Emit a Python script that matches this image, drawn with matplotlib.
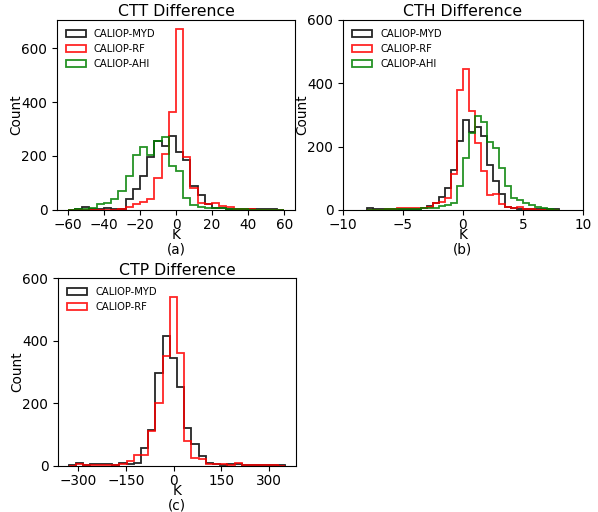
import matplotlib
matplotlib.use("Agg")
import matplotlib.pyplot as plt
import numpy as np

# bin edges
ctt_edges = np.arange(-60, 61, 4)
cth_edges = np.arange(-8, 8.01, 0.5)
ctp_edges = np.linspace(-330, 352, 31)

# counts per bin
ctt_myd = [0, 2, 10, 5, 3, 6, 3, 4, 40, 78, 124, 198, 254, 238, 276,
           214, 186, 89, 57, 21, 8, 6, 4, 3, 4, 2, 4, 5, 4, 0]
ctt_rf = [0, 0, 0, 0, 0, 0, 0, 5, 12, 22, 28, 40, 117, 207, 364,
          671, 197, 80, 27, 22, 24, 14, 9, 5, 3, 2, 1, 1, 0, 0]
ctt_ahi = [0, 2, 3, 8, 22, 27, 42, 70, 124, 204, 232, 205, 255, 271, 162,
           143, 46, 18, 11, 8, 6, 6, 5, 4, 2, 1, 0, 0, 0, 0]

cth_myd = [5, 3, 2, 2, 2, 3, 3, 3, 4, 7, 13, 23, 42, 68, 127, 218,
           284, 247, 261, 232, 141, 92, 50, 9, 5, 4, 3, 2, 2, 2, 3, 3]
cth_rf = [0, 0, 1, 2, 4, 5, 6, 7, 5, 7, 10, 21, 24, 37, 114, 378,
          444, 314, 210, 124, 47, 50, 19, 8, 5, 8, 4, 2, 1, 0, 0, 0]
cth_ahi = [0, 1, 1, 2, 3, 3, 4, 4, 4, 5, 5, 7, 11, 16, 21, 76,
           163, 242, 298, 279, 216, 195, 133, 74, 37, 32, 21, 15, 8, 5, 2, 1]

ctp_myd = [3, 8, 2, 7, 7, 5, 2, 8, 5, 10, 57, 116, 298, 414, 344,
           253, 122, 69, 32, 9, 5, 4, 5, 5, 4, 3, 3, 4, 4, 2]
ctp_rf = [0, 6, 3, 2, 3, 3, 2, 5, 15, 35, 36, 110, 202, 350, 540,
          361, 81, 24, 23, 7, 5, 5, 3, 9, 3, 2, 3, 4, 3, 0]

labels = ['CALIOP-MYD', 'CALIOP-RF', 'CALIOP-AHI']
colors = ['k', 'r', 'g']

plt.rcParams['font.size'] = 9.8
plt.rcParams['xtick.labelsize'] = 9.8
plt.rcParams['ytick.labelsize'] = 9.8
plt.rcParams['xtick.major.pad'] = 2

fig = plt.figure(figsize=(5.98, 5.12), dpi=100)


def step_hist(ax, edges, series, title, tag):
	"""
	Draws the step histograms of one panel
	"""
	for counts, col, lab in zip(series, colors, labels):
		ax.hist(edges[:-1], bins=edges, weights=counts, histtype='step',
				color=col, lw=1.3, alpha=0.85, label=lab)
	ax.set_title(title, fontsize=11.3, pad=2.5)
	ax.set_ylabel('Count', labelpad=-1.5)
	ax.set_xlabel('K\n(' + tag + ')', labelpad=-2.5, linespacing=1.0)
	ax.legend(loc='upper left', frameon=False, fontsize=7.2)


ax1 = fig.add_axes([0.0953, 0.590, 0.398, 0.371])
step_hist(ax1, ctt_edges, [ctt_myd, ctt_rf, ctt_ahi], 'CTT Difference', 'a')
ax1.set_xticks([-60, -40, -20, 0, 20, 40, 60])

ax2 = fig.add_axes([0.5736, 0.590, 0.401, 0.371])
step_hist(ax2, cth_edges, [cth_myd, cth_rf, cth_ahi], 'CTH Difference', 'b')
ax2.set_xlim(-10, 10)
ax2.set_ylim(0, 600)
ax2.set_yticks([0, 200, 400, 600])

ax3 = fig.add_axes([0.097, 0.090, 0.398, 0.367])
step_hist(ax3, ctp_edges, [ctp_myd, ctp_rf], 'CTP Difference', 'c')
ax3.set_ylim(0, 600)
ax3.set_yticks([0, 200, 400, 600])
ax3.set_xticks([-300, -150, 0, 150, 300])

fig.savefig('out.png', dpi=100)
